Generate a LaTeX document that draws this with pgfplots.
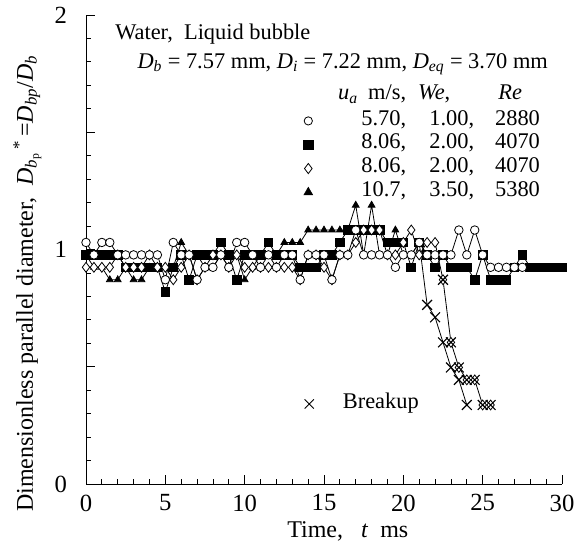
\documentclass[border=0pt]{standalone}
\usepackage{pgfplots}
\pgfplotsset{compat=1.18}
\usepackage{fontspec}
\setmainfont{Liberation Serif}
\begin{document}
\begin{tikzpicture}
\path[use as bounding box] (-64.5pt,-56.25pt) rectangle (374.25pt,363pt);
\begin{axis}[
  at={(0pt,0pt)}, anchor=south west,
  scale only axis, width=357pt, height=351.75pt,
  xmin=0, xmax=30, ymin=0, ymax=2,
  axis x line*=bottom, axis y line*=left,
  axis line style={line width=0.7pt, -},
  xtick={0,5,...,30}, minor x tick num=4,
  ytick={0,0.5,1,1.5,2}, yticklabels={0,,1,,2}, minor y tick num=4,
  tick align=inside,
  major tick length=6.5pt, minor tick length=3.75pt,
  every tick/.style={black, line width=0.6pt},
  tick label style={font=\fontsize{18.5}{20}\selectfont},
  /pgf/number format/assume math mode=true,
  xticklabel style={anchor=north, inner sep=0pt, yshift=-7.75pt},
  yticklabel style={anchor=east, inner sep=0pt, xshift=-14pt},
  label style={font=\fontsize{18}{20}\selectfont},
  xlabel={Time,\ \ \ \textit{t}\ \ ms},
  xlabel style={at={(axis description cs:0.55,-0.115)}, anchor=base},
  ylabel={Dimensionless parallel diameter,\ \ \textit{D}\textsubscript{\textit{b}\textsubscript{p}}\textsuperscript{\,*}\,=\textit{D}\textsubscript{\textit{bp}}/\textit{D}\textsubscript{\textit{b}}},
  ylabel style={at={(axis description cs:-0.123,0.4275)}, anchor=center},
  clip=false,
  legend style={draw=none, fill=none, at={(axis cs:13.70,1.599)}, anchor=north west,
    inner sep=0pt, outer sep=0pt, row sep=0pt,
    font=\fontsize{16.8}{18}\selectfont,
    nodes={inner sep=0pt, text height=12pt, text depth=5.85pt}},
  legend cell align=left,
]
\addlegendimage{only marks, mark=*, mark options={fill=white, draw=black, line width=0.6pt}, mark size=3.1pt}
\addlegendentry{\makebox[69.75pt][r]{5.70,}\makebox[51pt][r]{1.00,}\makebox[49.25pt][r]{2880}}
\addlegendimage{only marks, mark=square*, mark options={fill=black, draw=black}, mark size=3.7pt}
\addlegendentry{\makebox[69.75pt][r]{8.06,}\makebox[51pt][r]{2.00,}\makebox[49.25pt][r]{4070}}
\addlegendimage{only marks, mark=diamond*, mark options={fill=white, draw=black, line width=0.6pt}, mark size=3.8pt}
\addlegendentry{\makebox[69.75pt][r]{8.06,}\makebox[51pt][r]{2.00,}\makebox[49.25pt][r]{4070}}
\addlegendimage{only marks, mark=triangle*, mark options={fill=black, draw=black}, mark size=3.8pt}
\addlegendentry{\makebox[69.75pt][r]{10.7,}\makebox[51pt][r]{3.50,}\makebox[49.25pt][r]{5380}}

% triangles 10.7 m/s
\addplot[forget plot, black, line width=0.6pt, mark=triangle*, mark size=2.9pt, mark options={fill=black}] coordinates {
(0,0.977)(0.5,0.924)(1,0.924)(1.5,0.871)(2,0.871)(2.5,0.924)(3,0.871)(3.5,0.871)(4,0.924)(4.5,0.924)
(5,0.924)(5.5,0.924)(6,1.030)(6.5,0.977)(7,0.977)(7.5,0.924)(8,0.924)(8.5,0.977)(9,0.977)(9.5,0.977)
(10,0.871)(10.5,0.924)(11,0.977)(11.5,0.977)(12,0.977)(12.5,1.030)(13,1.030)(13.5,1.030)(14,1.083)(14.5,1.083)
(15,1.083)(15.5,1.083)(16,1.083)(16.5,1.083)(17,1.189)(17.5,0.977)(18,1.189)(18.5,0.977)(19,0.977)(19.5,1.083)
(20,0.977)(20.5,0.977)(21,1.030)};
\addplot[forget plot, black, line width=0.6pt, no marks] coordinates {
(21,1.030)(21.5,0.764)(22,0.711)(22.5,0.604)(23,0.497)(23.5,0.444)(24,0.337)};
% squares 8.06 m/s
\addplot[forget plot, black, line width=0.6pt, mark=square*, mark size=3.3pt, mark options={fill=black}] coordinates {
(0,0.977)(0.5,0.977)(1,0.977)(1.5,0.977)(2,0.977)(2.5,0.924)(3,0.924)(3.5,0.924)(4,0.924)(4.5,0.924)
(5,0.818)(5.5,0.924)(6,0.977)(6.5,0.871)(7,0.977)(7.5,0.977)(8,0.977)(8.5,1.030)(9,0.977)(9.5,0.871)
(10,0.977)(10.5,0.977)(11,0.977)(11.5,1.030)(12,0.977)(12.5,0.977)(13,0.977)(13.5,0.924)(14,0.924)(14.5,0.924)
(15,0.977)(15.5,0.977)(16,1.030)(16.5,1.083)(17,1.083)(17.5,1.083)(18,1.083)(18.5,1.083)(19,1.030)(19.5,1.030)
(20,1.030)(20.5,0.924)(21,1.030)(21.5,0.977)(22,0.924)(22.5,0.977)(23,0.924)(23.5,0.924)(24,0.924)(24.5,0.871)
(25,0.977)(25.5,0.871)(26,0.871)(26.5,0.871)(27,0.924)(27.5,0.977)(28,0.924)(28.5,0.924)(29,0.924)(29.5,0.924)(30,0.924)};
% diamonds 8.06 m/s
\addplot[forget plot, black, line width=0.6pt, mark=diamond*, mark size=3.7pt, mark options={fill=white}] coordinates {
(0,0.924)(0.5,0.924)(1,0.924)(1.5,0.924)(2,0.977)(2.5,0.924)(3,0.924)(3.5,0.924)(4,0.977)(4.5,0.924)
(5,0.924)(5.5,0.871)(6,0.924)(6.5,0.977)(7,0.871)(7.5,0.924)(8,0.977)(8.5,0.977)(9,0.924)(9.5,0.977)
(10,0.924)(10.5,0.924)(11,0.924)(11.5,0.924)(12,0.924)(12.5,0.924)(13,0.924)(13.5,0.871)(14,0.977)(14.5,0.977)
(15,0.924)(15.5,0.871)(16,0.977)(16.5,0.977)(17,1.030)(17.5,1.083)(18,1.083)(18.5,1.083)(19,0.977)(19.5,0.977)
(20,1.030)(20.5,1.083)(21,0.977)(21.5,1.030)(22,1.030)(22.5,0.871)(23,0.604)(23.5,0.497)(24,0.444)(24.5,0.444)
(25,0.337)(25.5,0.337)};
% circles 5.70 m/s
\addplot[forget plot, black, line width=0.6pt, mark=*, mark size=3.2pt, mark options={fill=white}] coordinates {
(0,1.030)(0.5,0.977)(1,1.030)(1.5,1.030)(2,0.977)(2.5,0.977)(3,0.977)(3.5,0.977)(4,0.977)(4.5,0.977)
(5,0.871)(5.5,1.030)(6,0.977)(6.5,0.977)(7,0.871)(7.5,0.924)(8,0.924)(8.5,0.977)(9,0.924)(9.5,1.030)
(10,1.030)(10.5,0.977)(11,0.924)(11.5,0.977)(12,0.924)(12.5,0.977)(13,0.977)(13.5,0.871)(14,0.977)(14.5,0.977)
(15,0.977)(15.5,0.871)(16,0.977)(16.5,0.977)(17,1.083)(17.5,0.977)(18,0.977)(18.5,0.977)(19,0.977)(19.5,0.924)
(20,0.977)(20.5,0.977)(21,1.030)(21.5,0.977)(22,0.977)(22.5,0.977)(23,0.977)(23.5,1.083)(24,0.977)(24.5,1.083)
(25,0.977)(25.5,0.924)(26,0.924)(26.5,0.924)(27,0.924)(27.5,0.924)};
% breakup crosses
\addplot[forget plot, only marks, black, mark=x, mark size=5.2pt, mark options={line width=0.85pt}] coordinates {
(21.5,0.764)(22,0.711)(22.5,0.604)(23,0.497)(23.5,0.444)(24,0.337)};
\addplot[forget plot, only marks, black, mark=x, mark size=5.2pt, mark options={line width=0.85pt}] coordinates {
(22.5,0.871)(23,0.604)(23.5,0.497)(24,0.444)(24.5,0.444)(25,0.337)(25.5,0.337)};

\node[anchor=base west, inner sep=0pt, font=\fontsize{16.8}{18}\selectfont] at (axis cs:1.828,1.896) {Water,\ \ Liquid bubble};
\node[anchor=base west, inner sep=0pt, font=\fontsize{16.8}{18}\selectfont] at (axis cs:3.23,1.773) {\textit{D}\textsubscript{\textit{b}} = 7.57 mm, \textit{D}\textsubscript{\textit{i}} = 7.22 mm, \textit{D}\textsubscript{\textit{eq}} = 3.70 mm};
\node[anchor=base west, inner sep=0pt, font=\fontsize{16.8}{18}\selectfont] at (axis cs:15.88,1.6375) {\textit{u}\textsubscript{\textit{a}}};
\node[anchor=base west, inner sep=0pt, font=\fontsize{16.8}{18}\selectfont] at (axis cs:17.77,1.6375) {m/s,};
\node[anchor=base west, inner sep=0pt, font=\fontsize{16.8}{18}\selectfont] at (axis cs:20.92,1.6375) {\textit{We},};
\node[anchor=base west, inner sep=0pt, font=\fontsize{16.8}{18}\selectfont] at (axis cs:25.97,1.6375) {\textit{Re}};
\end{axis}
\begin{axis}[
  at={(0pt,0pt)}, anchor=south west,
  scale only axis, width=357pt, height=351.75pt,
  xmin=0, xmax=30, ymin=0, ymax=2, hide axis,
  legend style={draw=none, fill=none, at={(axis cs:13.78,0.392)}, anchor=north west,
    inner sep=0pt, outer sep=0pt,
    font=\fontsize{16.8}{18}\selectfont,
    nodes={inner sep=0pt, text height=12pt, text depth=5.85pt}},
  legend cell align=left,
]
\addlegendimage{only marks, black, mark=x, mark size=4.9pt, mark options={line width=0.6pt}}
\addlegendentry{\hspace{21.75pt}Breakup}
\end{axis}
\end{tikzpicture}
\end{document}
